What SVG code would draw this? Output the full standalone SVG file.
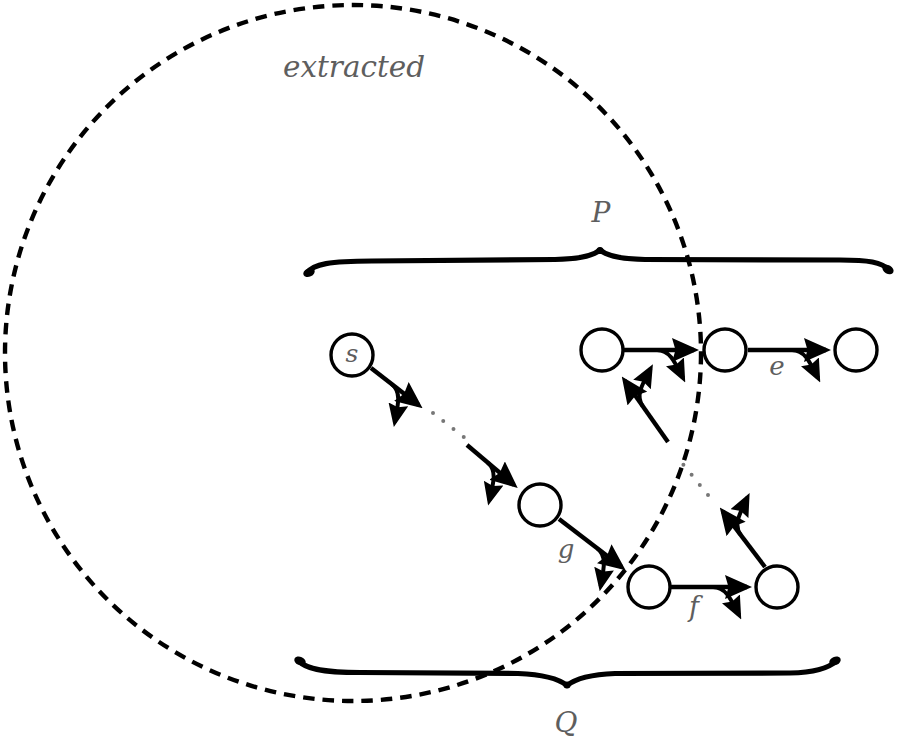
<svg xmlns="http://www.w3.org/2000/svg" width="898" height="749" viewBox="0 0 898 749">
<style>
.lbl{font-family:"DejaVu Serif","Liberation Serif",serif;font-style:italic;fill:#5e5e5e;}
.node circle{fill:#fff;stroke:#000;stroke-width:3.4;}
.main{fill:none;stroke:#000;stroke-width:4.4;marker-end:url(#ah);}
.br{fill:none;stroke:#000;stroke-width:4;marker-end:url(#bh);}
.dots{fill:none;stroke:#777;stroke-width:4;stroke-linecap:round;stroke-dasharray:0 13;}
.brace{fill:none;stroke:#000;stroke-width:5.2;stroke-linejoin:round;}
</style>
<defs>
<marker id="ah" viewBox="0 0 27 24" refX="22" refY="12" markerWidth="27" markerHeight="24" markerUnits="userSpaceOnUse" orient="auto"><path d="M0,0 L27,12 L0,24 L3.5,12 Z" fill="#000"/></marker>
<marker id="bh" viewBox="0 0 23 20" refX="18" refY="10" markerWidth="23" markerHeight="20" markerUnits="userSpaceOnUse" orient="auto"><path d="M0,0 L23,10 L0,20 L3,10 Z" fill="#000"/></marker>
</defs>
<rect width="898" height="749" fill="#fff"/>
<g id="extracted-region">
<circle cx="353" cy="353" r="348" fill="none" stroke="#000" stroke-width="4.4" stroke-dasharray="11.5 8"/>
<text class="lbl" x="283" y="77" font-size="29" textLength="142" lengthAdjust="spacingAndGlyphs">extracted</text>
</g>
<g id="brace-P">
<path class="brace" d="M307,273 C313,264 330,261 372,261 L555,259.5 C580,259 593,256 600,250 C607,256 620,259 645,259.5 L840,260 C868,260 882,262 889,270"/>
<ellipse cx="309" cy="272.5" rx="6" ry="4.2" transform="rotate(-25 309 272.5)"/>
<ellipse cx="888" cy="269.5" rx="6" ry="4.2" transform="rotate(30 888 269.5)"/>
<circle cx="600" cy="250.5" r="3.6"/>
<text class="lbl" x="601" y="222" font-size="28" text-anchor="middle">P</text>
</g>
<g id="brace-Q">
<path class="brace" d="M299,661 C305,668 320,672.5 360,672.5 L518,673.5 C543,674.5 559,679 567,685.5 C575,679 590,674.5 615,673.5 L790,673 C815,672.5 829,668 836,661"/>
<ellipse cx="300" cy="661" rx="6" ry="4.2" transform="rotate(25 300 661)"/>
<ellipse cx="835" cy="661" rx="6" ry="4.2" transform="rotate(-25 835 661)"/>
<circle cx="567" cy="685" r="3.6"/>
<text class="lbl" x="566" y="732" font-size="28" text-anchor="middle">Q</text>
</g>
<g id="connectors">
<g transform="translate(371,368) rotate(37.9)"><path class="main" d="M0,0 H60.4"/><path class="br" d="M26,0 C38,0 43,10 52,28"/></g>
<path class="dots" d="M433,413 L465,438"/>
<g transform="translate(467,445) rotate(40.3)"><path class="main" d="M0,0 H61.5"/><path class="br" d="M27,0 C39,0 44,10 53,28"/></g>
<g transform="translate(559,519) rotate(37.5)"><path class="main" d="M0,0 H79"/><path class="br" d="M48,0 C60,0 65,10 74,28"/></g>
<g transform="translate(671,587)"><path class="main" d="M0,0 H76"/><path class="br" d="M42,0 C54,0 59,10 68,28"/></g>
<g transform="translate(765,567) rotate(-127.2)"><path class="main" d="M0,0 H69.8"/><path class="br" d="M40,0 C52,0 57,10 66,28"/></g>
<path class="dots" d="M708,495 L682,463"/>
<g transform="translate(668,442) rotate(-125.2)"><path class="main" d="M0,0 H75.2"/><path class="br" d="M44,0 C56,0 61,10 70,28"/></g>
<g transform="translate(624,350)"><path class="main" d="M0,0 H70"/><path class="br" d="M33,0 C45,0 50,10 59,28"/></g>
<g transform="translate(748,350)"><path class="main" d="M0,0 H78"/><path class="br" d="M44,0 C56,0 61,10 70,28"/></g>
</g>
<g id="node-s" class="node"><circle cx="352" cy="355" r="21"/><text class="lbl" x="352" y="362" font-size="25" text-anchor="middle">s</text></g>
<g id="node-a" class="node"><circle cx="602" cy="350" r="21"/></g>
<g id="node-b" class="node"><circle cx="725" cy="350" r="21"/></g>
<g id="node-c" class="node"><circle cx="856" cy="350" r="21"/></g>
<g id="node-d" class="node"><circle cx="540" cy="505" r="21"/></g>
<g id="node-e" class="node"><circle cx="649" cy="587" r="21"/></g>
<g id="node-f" class="node"><circle cx="777" cy="587" r="21"/></g>
<g id="labels">
<text class="lbl" x="777" y="375" font-size="26" text-anchor="middle">e</text>
<text class="lbl" x="566" y="558" font-size="26" text-anchor="middle">g</text>
<text class="lbl" x="694" y="616" font-size="27" text-anchor="middle">f</text>
</g>
</svg>
